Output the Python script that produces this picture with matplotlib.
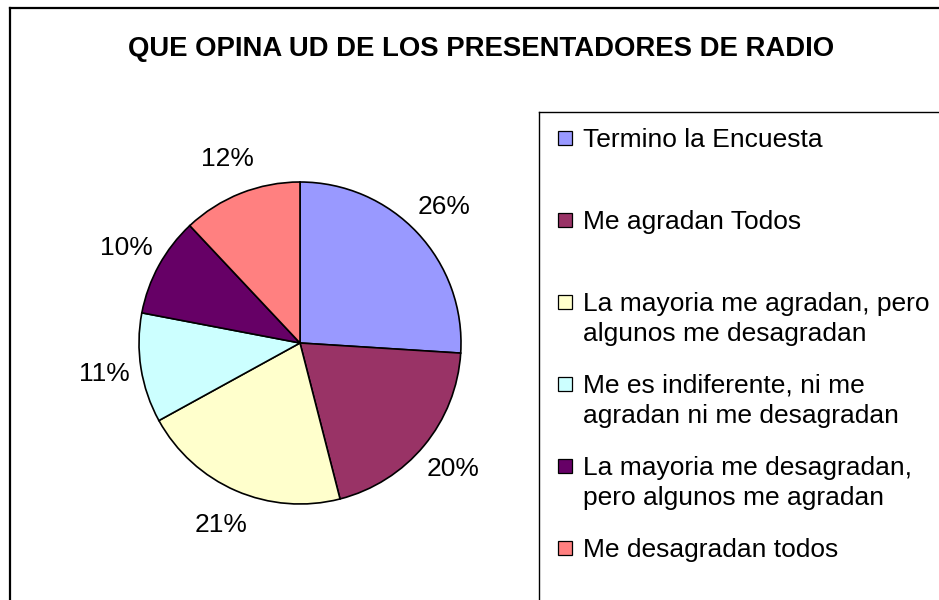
import matplotlib
matplotlib.use('Agg')
import matplotlib.pyplot as plt
from matplotlib.patches import Rectangle
from matplotlib.lines import Line2D

plt.rcParams['font.family'] = ['Liberation Sans', 'DejaVu Sans']

# data
title = "QUE OPINA UD DE LOS PRESENTADORES DE RADIO"
categories = [
    "Termino la Encuesta",
    "Me agradan Todos",
    "La mayoria me agradan, pero\nalgunos me desagradan",
    "Me es indiferente, ni me\nagradan ni me desagradan",
    "La mayoria me desagradan,\npero algunos me agradan",
    "Me desagradan todos",
]
values = [26, 20, 21, 11, 10, 12]
colors = ["#9999FF", "#993366", "#FFFFCC", "#CCFFFF", "#660066", "#FF8080"]

W, H = 939, 600
fig = plt.figure(figsize=(W / 100, H / 100), dpi=100)

def fx(px):
    return px / W

def fy(py):
    # pixel from top -> figure fraction from bottom
    return 1 - py / H

# outer frame (extends past the right/bottom edge of the image)
fig.add_artist(Line2D([fx(10), fx(10)], [fy(8), fy(620)], color='black', lw=1.6,
                      transform=fig.transFigure))
fig.add_artist(Line2D([fx(10), fx(960)], [fy(8), fy(8)], color='black', lw=1.6,
                      transform=fig.transFigure))

fig.text(fx(481), fy(49), title, ha='center', va='center',
         fontsize=19.8, fontweight='bold')

# pie
cx, cy, r = 300, 343, 161
ax = fig.add_axes([fx(cx - r), fy(cy + r), 2 * r / W, 2 * r / H])
ax.pie(values, colors=colors, startangle=90, counterclock=False,
       wedgeprops=dict(edgecolor='black', linewidth=1.2),
       autopct='%1.0f%%', pctdistance=1.23,
       textprops=dict(fontsize=19, color='black'))
ax.set_xlim(-1, 1)
ax.set_ylim(-1, 1)
ax.set_aspect('equal')
ax.axis('off')

# legend box (extends past the right/bottom edge)
fig.add_artist(Line2D([fx(539), fx(539)], [fy(112), fy(620)], color='black', lw=1.0,
                      transform=fig.transFigure))
fig.add_artist(Line2D([fx(539), fx(960)], [fy(112), fy(112)], color='black', lw=1.0,
                      transform=fig.transFigure))

entry_top = 138
entry_step = 82
line_px = 30
for i, (lab, col) in enumerate(zip(categories, colors)):
    y = entry_top + i * entry_step
    fig.add_artist(Rectangle((fx(558), fy(y + 7)), 14 / W, 14 / H,
                             facecolor=col, edgecolor='black', lw=0.9,
                             transform=fig.transFigure))
    # 'baseline' pins the last line, so push it down by the extra lines
    nlines = lab.count("\n") + 1
    fig.text(fx(583), fy(y + 9 + (nlines - 1) * line_px), lab,
             ha='left', va='baseline', fontsize=19, linespacing=1.32)

fig.savefig('out.png', dpi=100)
